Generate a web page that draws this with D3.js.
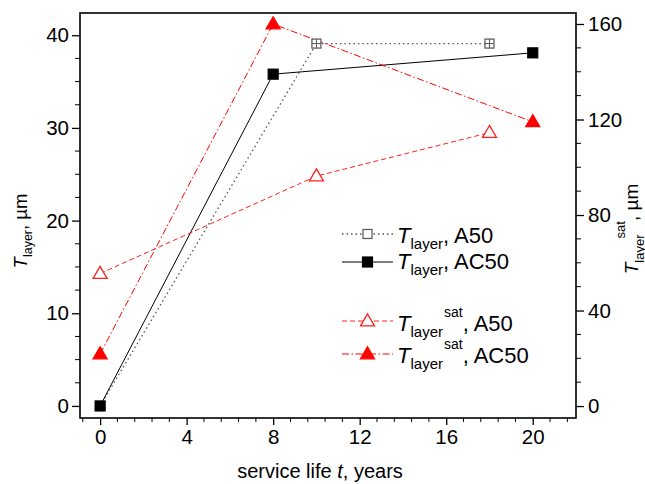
<!DOCTYPE html>
<html>
<head>
<meta charset="utf-8">
<script src="https://cdn.jsdelivr.net/npm/d3@7"></script>
<style>
  html, body { margin: 0; padding: 0; background: #fff; }
  svg { display: block; font-family: "Liberation Sans", Arial, sans-serif; }
</style>
</head>
<body>
<svg id="chart" width="645" height="484"></svg>
<script>
// Service life (years) for each sample set
const yearsA50 = [0, 10, 18];
const yearsAC50 = [0, 8, 20];

// Layer thickness, µm (left axis)
const layerA50 = [0, 39.1, 39.1];
const layerAC50 = [0, 35.8, 38.1];

// Saturated layer thickness, µm (right axis)
const satA50 = [55.5, 96.3, 114.5];
const satAC50 = [21.8, 160, 119];

const xTicks = [0, 4, 8, 12, 16, 20];
const yLeftTicks = [0, 10, 20, 30, 40];
const yRightTicks = [0, 40, 80, 120, 160];

const svg = d3.select("#chart");
const m = { left: 80, right: 576, top: 13, bottom: 418 };

const x = d3.scaleLinear().domain([-0.93, 22]).range([m.left, m.right]);
const yL = d3.scaleLinear().domain([-1.3, 42.4]).range([m.bottom, m.top]);
const yR = d3.scaleLinear().domain([-5.0, 164.6]).range([m.bottom, m.top]);

const tickFont = 20.5;

// Minor ticks
const xMinor = d3.range(-0.8, 22, 0.8).filter(v => !xTicks.some(t => Math.abs(t - v) < 1e-6));
const yLMinor = d3.range(0, 42.4, 2.5).filter(v => v % 10 !== 0);
const yRMinor = d3.range(0, 164.6, 10).filter(v => v % 40 !== 0);

// Bottom axis
const xAxis = svg.append("g").attr("transform", `translate(0,${m.bottom})`);
xAxis.call(d3.axisBottom(x).tickValues(xTicks).tickSize(7).tickSizeOuter(0).tickPadding(4));
xAxis.append("g").selectAll("line").data(xMinor).join("line")
  .attr("x1", d => x(d)).attr("x2", d => x(d)).attr("y1", 0).attr("y2", 4)
  .attr("stroke", "#000");

// Left axis
const yAxisL = svg.append("g").attr("transform", `translate(${m.left},0)`);
yAxisL.call(d3.axisLeft(yL).tickValues(yLeftTicks).tickSize(8).tickSizeOuter(0).tickPadding(3));
yAxisL.append("g").selectAll("line").data(yLMinor).join("line")
  .attr("y1", d => yL(d)).attr("y2", d => yL(d)).attr("x1", 0).attr("x2", -5)
  .attr("stroke", "#000");

// Right axis
const yAxisR = svg.append("g").attr("transform", `translate(${m.right},0)`);
yAxisR.call(d3.axisRight(yR).tickValues(yRightTicks).tickSize(8).tickSizeOuter(0).tickPadding(4));
yAxisR.append("g").selectAll("line").data(yRMinor).join("line")
  .attr("y1", d => yR(d)).attr("y2", d => yR(d)).attr("x1", 0).attr("x2", 5)
  .attr("stroke", "#000");

svg.selectAll(".domain").remove();
svg.selectAll(".tick text").attr("font-size", tickFont).attr("fill", "#000")
  .attr("font-family", "Liberation Sans, Arial, sans-serif");
svg.selectAll(".tick line").attr("stroke", "#000").attr("stroke-width", 1.3);

// Frame
svg.append("rect")
  .attr("x", m.left).attr("y", m.top)
  .attr("width", m.right - m.left).attr("height", m.bottom - m.top)
  .attr("fill", "none").attr("stroke", "#000").attr("stroke-width", 1.6);

// Series definitions
const series = [
  { xs: yearsA50, ys: layerA50, y: yL, color: "#555", dash: "1.5,3", width: 1.3, marker: "square", filled: false },
  { xs: yearsAC50, ys: layerAC50, y: yL, color: "#000", dash: null, width: 1, marker: "square", filled: true },
  { xs: yearsA50, ys: satA50, y: yR, color: "#ff2020", dash: "5,3", width: 1, marker: "triangle", filled: false },
  { xs: yearsAC50, ys: satAC50, y: yR, color: "#ff0000", dash: "7,2.5,1.5,2.5", width: 1, marker: "triangle", filled: true }
];

function drawMarker(g, type, filled, color, cx, cy, plus) {
  if (type === "square") {
    const s = filled ? 10 : 9;
    g.append("rect")
      .attr("x", cx - s / 2).attr("y", cy - s / 2).attr("width", s).attr("height", s)
      .attr("fill", filled ? "#000" : "#fff")
      .attr("stroke", color).attr("stroke-width", 1.2);
    if (plus) {
      g.append("path")
        .attr("d", `M${cx - s / 2},${cy}H${cx + s / 2}M${cx},${cy - s / 2}V${cy + s / 2}`)
        .attr("stroke", color).attr("stroke-width", 1);
    }
  } else {
    const h = 12, w = 14;
    g.append("path")
      .attr("d", `M${cx},${cy - h * 0.6}L${cx + w / 2},${cy + h * 0.4}L${cx - w / 2},${cy + h * 0.4}Z`)
      .attr("fill", filled ? color : "#fff")
      .attr("stroke", color).attr("stroke-width", 1.3);
  }
}

const plot = svg.append("g");
series.forEach(s => {
  const pts = s.xs.map((v, i) => [x(v), s.y(s.ys[i])]);
  plot.append("path")
    .attr("d", d3.line()(pts))
    .attr("fill", "none").attr("stroke", s.color).attr("stroke-width", s.width)
    .attr("stroke-dasharray", s.dash);
});
series.forEach(s => {
  s.xs.forEach((v, i) => {
    drawMarker(plot, s.marker, s.filled, s.color, x(v), s.y(s.ys[i]), s.marker === "square" && !s.filled);
  });
});

// Legend
const legend = svg.append("g");
const legendRows = [
  { s: series[0], y: 234, base: 243, sup: false, label: ", A50" },
  { s: series[1], y: 262, base: 269, sup: false, label: ", AC50" },
  { s: series[2], y: 321, base: 331, sup: true, label: ", A50" },
  { s: series[3], y: 354, base: 363, sup: true, label: ", AC50" }
];
legendRows.forEach(r => {
  legend.append("line")
    .attr("x1", 342).attr("x2", 393).attr("y1", r.y).attr("y2", r.y)
    .attr("stroke", r.s.color).attr("stroke-width", r.s.width)
    .attr("stroke-dasharray", r.s.dash);
  drawMarker(legend, r.s.marker, r.s.filled, r.s.color, 367.5, r.y, false);
  const t = legend.append("text")
    .attr("x", 397).attr("y", r.base)
    .attr("font-size", 22).attr("fill", "#000");
  t.append("tspan").attr("font-style", "italic").text("T");
  t.append("tspan").attr("font-size", 15).attr("dy", 6).text("layer");
  if (r.sup) {
    t.append("tspan").attr("font-size", 14).attr("dx", 1).attr("dy", -20).text("sat");
    t.append("tspan").attr("dy", 14).text(r.label);
  } else {
    t.append("tspan").attr("dy", -6).text(r.label);
  }
});

// Axis titles
svg.append("text")
  .attr("x", 320).attr("y", 478)
  .attr("text-anchor", "middle").attr("font-size", 20).attr("fill", "#000")
  .call(t => {
    t.append("tspan").text("service life ");
    t.append("tspan").attr("font-style", "italic").text("t");
    t.append("tspan").text(", years");
  });

const leftTitle = svg.append("text")
  .attr("transform", "translate(27,231) rotate(-90)")
  .attr("text-anchor", "middle").attr("font-size", 18.5).attr("fill", "#000");
leftTitle.append("tspan").attr("font-style", "italic").text("T");
leftTitle.append("tspan").attr("font-size", 12.5).attr("dy", 5).text("layer");
leftTitle.append("tspan").attr("dy", -5).text(", µm");

const rightTitle = svg.append("text")
  .attr("transform", "translate(638,229) rotate(-90)")
  .attr("text-anchor", "middle").attr("font-size", 19).attr("fill", "#000");
rightTitle.append("tspan").attr("font-style", "italic").text("T");
rightTitle.append("tspan").attr("font-size", 13).attr("dy", 6).text("layer");
rightTitle.append("tspan").attr("font-size", 13).attr("dx", -4).attr("dy", -19).text("sat");
rightTitle.append("tspan").attr("dy", 13).text(", µm");
</script>
</body>
</html>
